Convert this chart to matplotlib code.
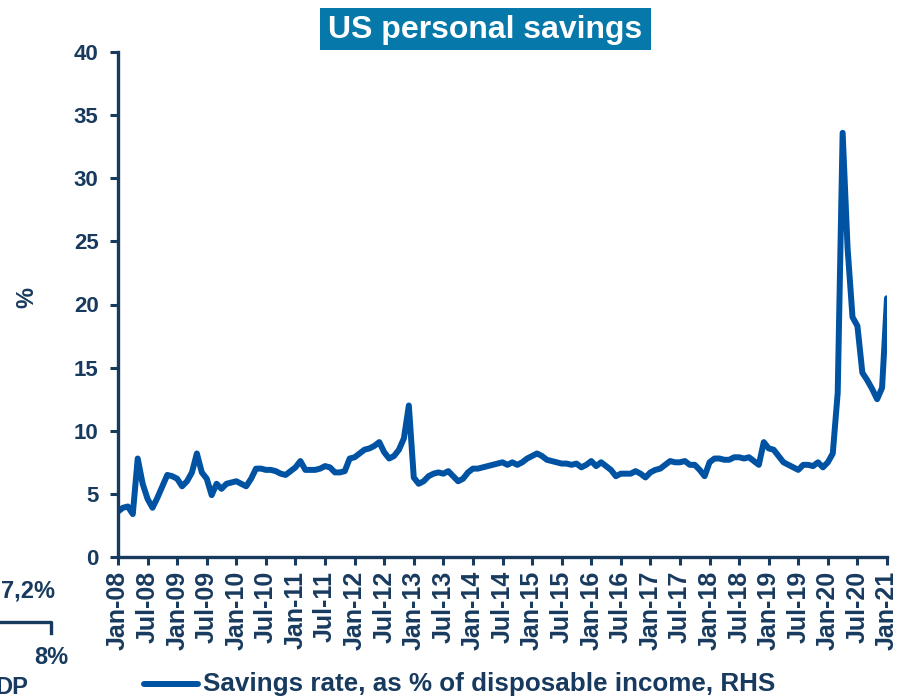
import matplotlib
matplotlib.use("Agg")
import matplotlib.pyplot as plt
from matplotlib.patches import Rectangle
import numpy as np

plt.rcParams['font.family'] = ['Liberation Sans', 'DejaVu Sans']
plt.rcParams['font.weight'] = 'bold'

# Monthly US personal savings rate, % of disposable income (Jan-08 .. Jan-21)
rate_2008 = [3.6, 3.9, 4.0, 3.4, 7.8, 5.8, 4.6, 3.9, 4.7, 5.6, 6.5, 6.4]
rate_2009 = [6.2, 5.6, 6.0, 6.7, 8.2, 6.7, 6.2, 4.9, 5.8, 5.4, 5.8, 5.9]
rate_2010 = [6.0, 5.8, 5.6, 6.2, 7.0, 7.0, 6.9, 6.9, 6.8, 6.6, 6.5, 6.8]
rate_2011 = [7.1, 7.6, 6.9, 6.9, 6.9, 7.0, 7.2, 7.1, 6.7, 6.7, 6.8, 7.8]
rate_2012 = [7.9, 8.2, 8.5, 8.6, 8.8, 9.1, 8.3, 7.8, 8.0, 8.5, 9.4, 12.0]
rate_2013 = [6.3, 5.8, 6.0, 6.4, 6.6, 6.7, 6.6, 6.8, 6.4, 6.0, 6.2, 6.7]
rate_2014 = [7.0, 7.0, 7.1, 7.2, 7.3, 7.4, 7.5, 7.3, 7.5, 7.3, 7.5, 7.8]
rate_2015 = [8.0, 8.2, 8.0, 7.7, 7.6, 7.5, 7.4, 7.4, 7.3, 7.4, 7.1, 7.3]
rate_2016 = [7.6, 7.2, 7.5, 7.2, 6.9, 6.4, 6.6, 6.6, 6.6, 6.8, 6.6, 6.3]
rate_2017 = [6.7, 6.9, 7.0, 7.3, 7.6, 7.5, 7.5, 7.6, 7.3, 7.3, 6.9, 6.4]
rate_2018 = [7.5, 7.8, 7.8, 7.7, 7.7, 7.9, 7.9, 7.8, 7.9, 7.6, 7.3, 9.1]
rate_2019 = [8.6, 8.5, 8.0, 7.5, 7.3, 7.1, 6.9, 7.3, 7.3, 7.2, 7.5, 7.1]
rate_2020 = [7.5, 8.2, 13.0, 33.6, 24.5, 19.0, 18.3, 14.6, 14.0, 13.3, 12.5, 13.4]
rate_2021 = [20.5]

savings_rate = (rate_2008 + rate_2009 + rate_2010 + rate_2011 + rate_2012 +
                rate_2013 + rate_2014 + rate_2015 + rate_2016 + rate_2017 +
                rate_2018 + rate_2019 + rate_2020 + rate_2021)

tick_labels = ['Jan-08', 'Jul-08', 'Jan-09', 'Jul-09', 'Jan-10', 'Jul-10',
               'Jan-11', 'Jul-11', 'Jan-12', 'Jul-12', 'Jan-13', 'Jul-13',
               'Jan-14', 'Jul-14', 'Jan-15', 'Jul-15', 'Jan-16', 'Jul-16',
               'Jan-17', 'Jul-17', 'Jan-18', 'Jul-18', 'Jan-19', 'Jul-19',
               'Jan-20', 'Jul-20', 'Jan-21']
y_ticks = [0, 5, 10, 15, 20, 25, 30, 35, 40]

title = 'US personal savings'
legend_label = 'Savings rate, as % of disposable income, RHS'

W, H = 899, 698
fig = plt.figure(figsize=(W / 100, H / 100), dpi=100)

navy = '#173A5E'
line_blue = '#0052A2'
title_bg = '#0678AA'

def fx(px):
    return px / W

def fy(py):
    return 1 - py / H

ax = fig.add_axes([fx(118), fy(557), fx(887) - fx(118), fy(52) - fy(557)])

x = np.arange(len(savings_rate))
ax.plot(x, savings_rate, color=line_blue, lw=4.3, solid_joinstyle='round',
        solid_capstyle='round')

ax.set_xlim(0, len(savings_rate) - 1)
ax.set_ylim(0, 40)
ax.set_yticks(y_ticks)
ax.set_yticklabels([str(v) for v in y_ticks], fontsize=16, fontweight='bold', color=navy)
ax.set_xticks(np.arange(0, len(savings_rate), 6))
ax.set_xticklabels(tick_labels, rotation=90, fontsize=18, fontweight='bold', color=navy)

for s in ['top', 'right']:
    ax.spines[s].set_visible(False)
for s in ['left', 'bottom']:
    ax.spines[s].set_color(navy)
    ax.spines[s].set_linewidth(2.4)
ax.tick_params(axis='both', colors=navy, width=2.2, length=6, direction='out')
ax.tick_params(axis='y', pad=8)
ax.tick_params(axis='x', pad=4)
for lbl in ax.get_xticklabels():
    lbl.set_color(navy)

# y label
fig.text(fx(27), fy(298), '%', rotation=90, fontsize=17, fontweight='bold',
         color=navy, ha='center', va='center')

# title box
fig.patches.append(Rectangle((fx(320), fy(50)), fx(651) - fx(320), fy(8) - fy(50),
                             transform=fig.transFigure, facecolor=title_bg,
                             edgecolor='none', zorder=1))
fig.text(fx(485.5), fy(30), title, fontsize=23, fontweight='bold', color='white',
         ha='center', va='center', zorder=2)

# legend (drawn manually)
fig.lines.append(plt.Line2D([fx(144), fx(198)], [fy(684), fy(684)],
                            transform=fig.transFigure, color=line_blue, lw=4.3,
                            solid_capstyle='round'))
fig.text(fx(203), fy(684), legend_label, fontsize=18.7, fontweight='bold',
         color=navy, ha='left', va='center')

# fragments of the neighbouring chart at the left edge
fig.text(fx(55), fy(591), '7,2%', fontsize=17, fontweight='bold', color=navy,
         ha='right', va='center')
fig.text(fx(68), fy(657), '8%', fontsize=17, fontweight='bold', color=navy,
         ha='right', va='center')
fig.text(fx(28), fy(688), 'DP', fontsize=17, fontweight='bold', color=navy,
         ha='right', va='center')
fig.lines.append(plt.Line2D([fx(0), fx(51), fx(51)], [fy(622), fy(622), fy(633)],
                            transform=fig.transFigure, color=navy, lw=2.4))

fig.savefig('out.png', dpi=100)
